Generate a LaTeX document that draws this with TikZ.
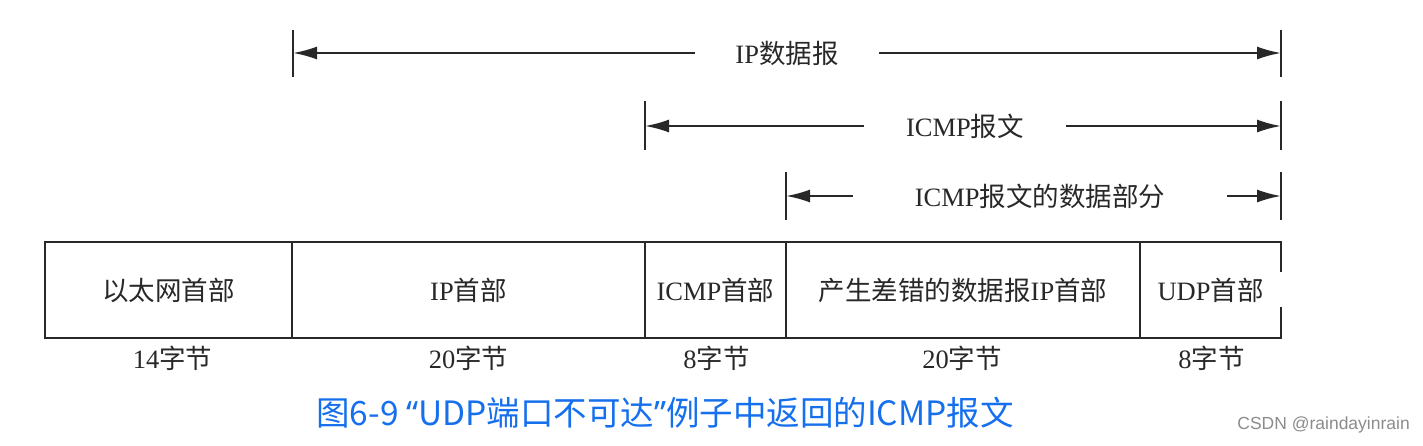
\documentclass[tikz,border=0pt]{standalone}
\usepackage{fontspec}
\setmainfont{Liberation Serif}
\newfontfamily\cjk{Noto Sans CJK SC}
\newfontfamily\capsans{Noto Sans}
\newfontfamily\wmfont{Liberation Sans}
\usetikzlibrary{arrows.meta,calc}
\newcommand\zh[1]{{\cjk #1}}
\definecolor{capblue}{RGB}{22,112,238}
\definecolor{ink}{RGB}{40,40,40}
\tikzset{
  field/.style={draw=ink, line width=2pt, minimum height=96pt, inner sep=0pt, outer sep=0pt,
    anchor=north west, font=\fontsize{26.5}{28}\selectfont, text=ink},
  bare/.style={field, draw=none},
  bytes/.style={font=\fontsize{26.5}{28}\selectfont, text=ink, inner sep=0pt},
  dimlabel/.style={font=\fontsize{26.5}{28}\selectfont, text=ink, inner ysep=2pt},
  dimline/.style={draw=ink, line width=2pt, -{Latex[length=24pt,width=13pt]}},
  tickline/.style={draw=ink, line width=2pt}
}
\begin{document}
\begin{tikzpicture}[x=1pt,y=-1pt]
\useasboundingbox (0,0) rectangle (1423,445);
\fill[white] (0,0) rectangle (1423,445);

% fields
\node[field, minimum width=247pt] (eth) at (45,242) {\zh{以太网首部}};
\node[field, minimum width=353pt] (ip) at (292,242) {IP\zh{首部}};
\node[field, minimum width=141pt] (icmp) at (645,242) {ICMP\zh{首部}};
\node[field, minimum width=354pt] (orig) at (786,242) {\zh{产生差错的数据报}IP\zh{首部}};
\node[bare, minimum width=141pt] (udp) at (1140,242) {UDP\zh{首部}};
\draw[tickline, line join=miter] ($(udp.north east)+(0,30)$) -- (udp.north east) -- (udp.north west)
  -- (udp.south west) -- (udp.south east) -- ++(0,-31);

% byte counts
\node[bytes] (b1) at ($(eth.south)+(4,20)$) {14\zh{字节}};
\node[bytes] (b2) at ($(ip.south)+(0,20)$) {20\zh{字节}};
\node[bytes] (b3) at ($(icmp.south)+(1,20)$) {8\zh{字节}};
\node[bytes] (b4) at ($(orig.south)+(-1,20)$) {20\zh{字节}};
\node[bytes] (b5) at ($(udp.south)+(1,20)$) {8\zh{字节}};

% dimension row 1
\coordinate (r1l) at (293,53);
\coordinate (r1r) at (1281,53);
\node[dimlabel, inner xsep=40pt] (d1) at (787,53) {IP\zh{数据报}};
\draw[tickline] ($(r1l)+(0,-23)$) -- ($(r1l)+(0,24)$);
\draw[tickline] ($(r1r)+(0,-23)$) -- ($(r1r)+(0,24)$);
\draw[dimline] (d1.west) -- (r1l);
\draw[dimline] (d1.east) -- (r1r);

% dimension row 2
\coordinate (r2l) at (645,126);
\coordinate (r2r) at (1281,126);
\node[dimlabel, inner xsep=42pt] (d2) at (965,126) {ICMP\zh{报文}};
\draw[tickline] ($(r2l)+(0,-25)$) -- ($(r2l)+(0,24)$);
\draw[tickline] ($(r2r)+(0,-25)$) -- ($(r2r)+(0,24)$);
\draw[dimline] (d2.west) -- (r2l);
\draw[dimline] (d2.east) -- (r2r);

% dimension row 3
\coordinate (r3l) at (786,196);
\coordinate (r3r) at (1281,196);
\node[dimlabel, inner xsep=62pt] (d3) at (1040,196) {ICMP\zh{报文的数据部分}};
\draw[tickline] ($(r3l)+(0,-24)$) -- ($(r3l)+(0,24)$);
\draw[tickline] ($(r3r)+(0,-24)$) -- ($(r3r)+(0,24)$);
\draw[dimline] (d3.west) -- (r3l);
\draw[dimline] (d3.east) -- (r3r);

% caption
\node[text=capblue, font=\cjk\fontsize{33.5}{36}\selectfont, inner sep=0pt] (cap) at (665,413)
  {图6-9 {\capsans “}UDP端口不可达{\capsans ”}例子中返回的ICMP报文};
% watermark
\node[text=black!45, font=\wmfont\fontsize{17.5}{19}\selectfont, inner sep=0pt, anchor=east] (wm) at (1410,425)
  {CSDN @raindayinrain};
\end{tikzpicture}
\end{document}
